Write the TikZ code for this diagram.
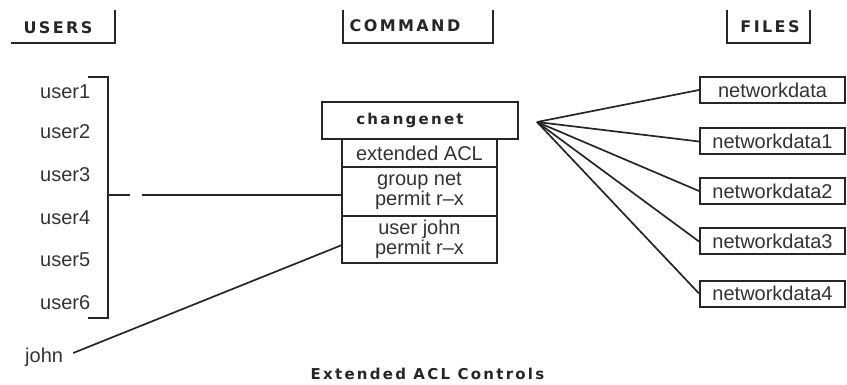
\documentclass[tikz,border=0pt]{standalone}
\usepackage{fontspec}
\setmainfont{Liberation Sans}
\newfontfamily\hdfont{DejaVu Sans Bold}[LetterSpace=15]
\begin{document}
\begin{tikzpicture}[x=1pt,y=-1pt,
  rule/.style={line width=1.9pt, draw=black!85},
  link/.style={line width=1.7pt, draw=black!85},
  heading/.style={font=\hdfont\fontsize{16}{18}\selectfont, inner sep=0pt, text=black!85},
  label/.style={font=\fontsize{20}{20}\selectfont, inner sep=0pt, text=black!80},
  aclbox/.style={draw=black!85, line width=2pt, minimum width=155pt, align=center,
    font=\fontsize{20}{20}\selectfont, inner sep=0pt, text=black!80},
  filebox/.style={draw=black!85, line width=2pt, minimum width=145pt, minimum height=26pt,
    font=\fontsize{20}{20}\selectfont, inner sep=0pt, text=black!80}]
\useasboundingbox (0,0) rectangle (847,385);

% column headings
\node[heading] (hu) at (58,28) {USERS};
\node[heading] (hc) at (405,25.5) {COMMAND};
\node[heading] (hf) at (770,27) {FILES};
\draw[rule] (11,43) -- (115,43) -- (115,10);
\draw[rule] (343,10) -- (343,43) -- (493,43) -- (493,10);
\draw[rule] (727,10) -- (727,43) -- (810,43) -- (810,10);

% users and their bracket
\foreach \i/\y in {1/92,2/132,3/175,4/218,5/260,6/303}
  \node[label, anchor=west] (u\i) at (40,\y) {user\i};
\node[label, anchor=west] (john) at (25,357) {john};
\draw[rule] (88,77) -- (108,77) -- (108,318) -- (88,318);

% command (name set a little left of centre) and its extended ACL
\node[draw=black!85, line width=2.4pt, minimum width=196pt, minimum height=37pt,
  font=\hdfont\fontsize{15}{17}\selectfont, text=black!85]
  (cmd) at (420,120.5) {\kern-20pt changenet};
\node[aclbox, minimum height=28pt] (ext) at (419.5,153) {extended ACL};
\node[aclbox, minimum height=49pt] (grp) at (419.5,191.5) {group net\\permit r–x};
\node[aclbox, minimum height=47pt] (usr) at (419.5,239.5) {user john\\permit r–x};

% files
\node[filebox] (f0) at (772.5,90) {networkdata};
\node[filebox] (f1) at (772.5,141.5) {networkdata1};
\node[filebox] (f2) at (772.5,191) {networkdata2};
\node[filebox] (f3) at (772.5,241.5) {networkdata3};
\node[filebox] (f4) at (772.5,293.5) {networkdata4};

% connectors
\coordinate (brk) at (108,195);
\coordinate (tick) at (130,195);
\coordinate (gap) at (142,195);
\coordinate (jend) at (342,245);
\coordinate (fan) at (537,122);
\draw[link] (brk) -- (tick);
\draw[link] (gap) -- (gap -| grp.west);
\path (john.east) ++(10,-4) coordinate (jst);
\draw[link] (jst) -- (jend);
\foreach \f in {f0,f1,f2,f3,f4}
  \draw[link] (fan) -- (\f.west);

% caption
\node[font=\hdfont\fontsize{15}{17}\selectfont, text=black!85, inner sep=0pt] (cap) at (427.5,373.5) {Extended ACL Controls};
\end{tikzpicture}
\end{document}
